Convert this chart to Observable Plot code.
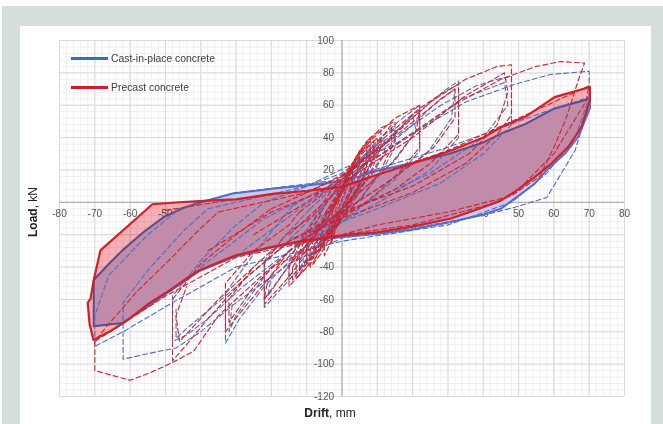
<!DOCTYPE html>
<html><head><meta charset="utf-8">
<script src="https://cdn.jsdelivr.net/npm/d3@7"></script>
<script src="https://cdn.jsdelivr.net/npm/@observablehq/plot@0.6"></script>
<style>
html,body{margin:0;padding:0;background:#fff;}
#page{position:relative;width:663px;height:424px;overflow:hidden;background:#fff;font-family:"Liberation Sans",Arial,sans-serif;}
#bg{position:absolute;left:2px;top:6px;right:0;bottom:0;background:#d6dedc;}
#panel{position:absolute;left:20px;top:26px;width:631px;bottom:0;background:#fff;}
#chart{position:absolute;left:0;top:0;}
.leg{position:absolute;left:71px;font-size:10.4px;color:#404040;white-space:nowrap;}
.leg span.sw{display:inline-block;width:37px;height:2.5px;vertical-align:middle;margin-right:3px;position:relative;top:-1px;}
#ytitle{position:absolute;left:33px;top:212px;transform:translate(-50%,-50%) rotate(-90deg);font-size:12px;color:#222;white-space:nowrap;}
#xtitle{position:absolute;left:330px;top:413px;transform:translate(-50%,-50%);font-size:12px;color:#222;white-space:nowrap;}
</style></head>
<body>
<div id="page">
  <div id="bg"></div>
  <div id="panel"></div>
  <div id="chart"></div>
  <div class="leg" style="top:53px"><span class="sw" style="background:#2f70c2"></span>Cast-in-place concrete</div>
  <div class="leg" style="top:82px"><span class="sw" style="background:#c9202b"></span>Precast concrete</div>
  <div id="ytitle"><b>Load</b>, kN</div>
  <div id="xtitle"><b>Drift</b>, mm</div>
</div>
<script>
// ---- tick labels ----
const xTickLabels = [-80,-70,-60,-50,-40,-30,-20,-10,0,10,20,30,40,50,60,70,80];
const yTickLabels = [-120,-100,-80,-60,-40,-20,0,20,40,60,80,100];

// ---- final (filled) cycles ----
const castFinalLoop = [[-70.3,-48],[-66,-38],[-62.2,-29.7],[-56,-18],[-50.4,-9],[-45,-3.5],[-40,0],[-31,5.4],[-19.2,8.5],[-9.7,10.5],[0,12.8],[10,19.5],[20,24.5],[30.4,30],[40,37],[45.1,42.5],[52,48.5],[60.2,58],[70.2,64],[70.2,58],[66.9,40.4],[63.1,30],[58,20],[54.6,11.5],[48.9,2.3],[45.1,-3.9],[40,-7.5],[30.9,-12.2],[19.6,-16.9],[9.2,-19.8],[0,-21.5],[-10.5,-24],[-20,-28],[-30.2,-33.5],[-40.4,-42.5],[-48.8,-55],[-55,-64.5],[-62.2,-74.6],[-70.3,-76.6]];
const precastFinalLoop = [[-71.2,-59.5],[-70.3,-48],[-68.4,-29.7],[-53.7,-1.2],[-45,0.2],[-38,1],[-30,1.8],[-19.2,5.4],[-10,7],[0,9.5],[10,17],[20,24],[30.9,32],[40,40],[45.1,46.5],[52,53],[60.2,65],[70.2,71.3],[70.2,63],[67.8,46.5],[64,34],[59.3,24],[54.6,15.6],[48.9,6.4],[45.1,1.2],[40,-3],[30.9,-10],[19.6,-15.2],[10,-18.5],[0,-20.4],[-10.5,-23.5],[-20,-27.6],[-30.2,-32.8],[-40.4,-42],[-44,-47],[-48.8,-54.4],[-55,-63],[-60.8,-73],[-65.5,-79.5],[-70.4,-85],[-71.5,-75],[-72,-62]];

// ---- earlier (dashed) cycles ----
const castCycles = [
  [[-1,-6],[1,6],[2,12],[3,18],[3,12],[1,2],[-1,-8],[-2,-15],[-3,-22],[-3,-15],[-2,-8],[-1,-6]],
  [[-3,-6],[0,8],[3,20],[6,28],[6,20],[4,8],[1,-4],[-2,-14],[-4,-22],[-6,-30],[-6,-22],[-4,-10],[-3,-6]],
  [[-4,-4],[0,10],[5,26],[9,35],[9,26],[6,12],[2,-2],[-2,-14],[-6,-26],[-10,-38],[-10,-28],[-7,-14],[-4,-4]],
  [[-5,-2],[0,12],[4,24],[8,33],[8,24],[5,10],[1,-4],[-3,-16],[-7,-28],[-11,-40],[-11,-30],[-8,-16],[-5,-2]],
  [[-7,-22],[-2,0],[3,16],[7,30],[7,22],[3,8],[-2,-10],[-7,-28],[-7,-22]],
  [[-12,-36],[-6,-16],[0,6],[6,22],[12,40],[12,30],[6,12],[0,-4],[-6,-20],[-12,-42],[-12,-36]],
  [[-6,-4],[0,12],[7,30],[12,42],[15,46],[15,34],[11,18],[5,2],[0,-10],[-6,-24],[-11,-38],[-15,-48],[-15,-36],[-11,-20],[-6,-4]],
  [[-18,-30],[-8,-8],[2,14],[12,36],[20,54],[21,44],[14,24],[4,4],[-6,-16],[-16,-42],[-21,-58],[-20,-46]],
  [[-9,-4],[0,14],[9,36],[16,50],[22,60],[22,46],[22,32],[15,14],[6,-2],[0,-12],[-8,-30],[-15,-48],[-22,-65],[-22,-50],[-22,-36],[-15,-18],[-9,-4]],
  [[-28,-30],[-12,-4],[4,20],[18,44],[28,64],[32,70],[31,52],[24,30],[10,8],[-6,-14],[-20,-40],[-30,-70],[-32,-80],[-31,-62]],
  [[-14,-2],[0,14],[12,38],[22,56],[29,69],[33,75],[33,58],[33,40],[25,20],[12,2],[0,-12],[-12,-30],[-22,-52],[-29,-72],[-33,-87],[-33,-70],[-33,-56],[-25,-32],[-14,-2]],
  [[-40,-40],[-22,-10],[0,14],[20,42],[34,64],[46,74],[47,60],[40,40],[25,18],[5,-2],[-15,-24],[-32,-56],[-44,-78],[-47,-84],[-47,-66]],
  [[-22,0],[0,18],[15,40],[28,60],[38,72],[44,76],[48,78],[48,62],[48,48],[40,30],[28,12],[10,-4],[0,-12],[-15,-30],[-28,-52],[-38,-72],[-44,-82],[-48,-86],[-48,-72],[-48,-58],[-40,-36],[-30,-14],[-22,0]],
  [[-38,-4],[-10,10],[15,36],[35,62],[49,73],[59,79],[70,81],[70,72],[70,60],[66,32],[58,3],[49,-3],[40,-8],[20,-16],[0,-22],[-15,-38],[-30,-62],[-40,-80],[-47,-90],[-55,-93.5],[-62,-97],[-62,-80],[-62,-62],[-55,-42],[-45,-18],[-38,-4]],
  [[-46,-4],[-30,6],[0,14],[30,34],[60,58],[70,65],[66,40],[58,18],[48,0],[30,-14],[0,-24],[-30,-40],[-48,-62],[-62,-80],[-70,-89],[-70,-70],[-66,-45],[-55,-20],[-46,-4]]
];
const precastCycles = [
  [[-1,-4],[1,8],[2,16],[3,22],[3,15],[2,6],[0,-3],[-1,-10],[-2,-18],[-3,-25],[-3,-17],[-2,-8],[-1,-4]],
  [[-2,-6],[1,12],[3,24],[5,32],[5,24],[3,10],[1,-2],[-1,-12],[-3,-24],[-5,-33],[-5,-24],[-3,-10],[-2,-6]],
  [[-6,-20],[-2,0],[2,18],[5,30],[7,36],[7,26],[4,12],[0,-4],[-4,-20],[-7,-32],[-8,-38],[-8,-28],[-6,-20]],
  [[-3,-8],[0,8],[3,24],[6,35],[8,40],[8,30],[6,16],[3,2],[0,-10],[-3,-20],[-6,-32],[-9,-40],[-9,-30],[-7,-16],[-4,-6],[-1,4],[2,14]],
  [[-4,-10],[0,6],[3,20],[6,32],[9,38],[9,28],[6,14],[2,0],[-2,-14],[-6,-28],[-10,-38],[-10,-28],[-7,-14],[-4,-10]],
  [[-10,-30],[-5,-10],[0,10],[4,26],[10,40],[10,30],[6,16],[0,-6],[-6,-26],[-12,-44],[-12,-34],[-10,-30]],
  [[-5,-8],[0,10],[4,28],[8,40],[11,45],[11,34],[8,18],[4,3],[0,-10],[-4,-22],[-8,-36],[-13,-47],[-13,-36],[-10,-20],[-6,-8],[-5,-8]],
  [[-14,-40],[-8,-20],[0,6],[8,30],[14,48],[14,36],[8,16],[0,-4],[-8,-30],[-14,-48],[-14,-40]],
  [[-6,-6],[0,14],[6,34],[11,46],[15,50],[15,38],[11,20],[6,4],[0,-10],[-5,-24],[-10,-40],[-15,-52],[-15,-40],[-11,-22],[-7,-8],[-6,-6]],
  [[-15,-20],[-5,0],[5,20],[14,40],[20,54],[22,57],[21,44],[15,26],[5,6],[-5,-14],[-14,-36],[-20,-54],[-22,-60],[-21,-48],[-15,-30]],
  [[-8,-8],[0,16],[8,38],[15,52],[22,60],[22,48],[22,34],[16,18],[8,2],[0,-10],[-8,-26],[-15,-46],[-22,-63],[-22,-50],[-22,-38],[-16,-20],[-8,-8]],
  [[-25,-20],[-10,0],[5,24],[18,46],[27,62],[32,70],[32,52],[26,34],[14,14],[0,-6],[-14,-28],[-25,-52],[-32,-74],[-32,-60],[-25,-40]],
  [[-12,-6],[0,14],[12,40],[22,58],[28,67],[33,73],[33,58],[33,42],[25,24],[15,8],[0,-8],[-10,-22],[-20,-45],[-28,-66],[-33,-80],[-33,-64],[-33,-50],[-25,-30],[-15,-14],[-12,-6]],
  [[-38,-30],[-20,-6],[0,12],[20,40],[35,66],[46,80],[47,68],[44,48],[36,30],[20,10],[0,-6],[-20,-30],[-35,-60],[-46,-86],[-47,-70],[-44,-52]],
  [[-20,-4],[0,16],[15,42],[25,62],[35,76],[44,84],[48,85],[48,70],[48,54],[44,42],[35,24],[20,6],[0,-10],[-15,-24],[-28,-48],[-38,-72],[-44,-88],[-48,-98],[-48,-80],[-48,-60],[-40,-38],[-30,-20],[-20,-4]],
  [[-35,-6],[-10,6],[10,28],[30,58],[45,76],[55,84],[62,87],[68.7,86],[67,76],[63.5,52],[60,34],[56,16],[48,4],[30,-6],[10,-14],[0,-20],[-20,-40],[-35,-70],[-42,-92],[-48,-99],[-54,-105],[-60,-110],[-70,-104],[-70,-86],[-66,-75],[-58,-55],[-50,-38],[-40,-16],[-35,-6]],
  [[-50,-5],[-30,2],[0,10],[30,32],[60,62],[70,72],[69,62],[60,30],[50,8],[44,0],[20,-14],[0,-20],[-30,-34],[-50,-58],[-70,-86]]
];

function toRows(cycles, series) {
  const out = [];
  cycles.forEach((loop, i) => loop.forEach(([x, y]) => out.push({series, loop: series + i, x, y})));
  return out;
}
const castRows = toRows(castCycles, "cast");
const precastRows = toRows(precastCycles, "precast");

const chart = Plot.plot({
  width: 663, height: 424,
  marginLeft: 59, marginRight: 39, marginTop: 40, marginBottom: 28,
  x: {domain: [-80, 80], axis: null},
  y: {domain: [-120, 100], axis: null},
  style: {background: "transparent", fontFamily: "'Liberation Sans', Arial, sans-serif", overflow: "visible"},
  marks: [
    Plot.ruleX(d3.range(-80, 81, 2), {stroke: "#efefef", strokeWidth: 1}),
    Plot.ruleY(d3.range(-120, 101, 4), {stroke: "#efefef", strokeWidth: 1}),
    Plot.ruleX(xTickLabels, {stroke: "#d9d9d9", strokeWidth: 1}),
    Plot.ruleY(yTickLabels, {stroke: "#d9d9d9", strokeWidth: 1}),
    Plot.ruleY([0], {stroke: "#a6a6a6", strokeWidth: 1}),
    Plot.ruleX([0], {stroke: "#a6a6a6", strokeWidth: 1}),
    Plot.text(xTickLabels, {x: d => d, y: () => 0, dy: 11, text: d => String(d), fill: "#555", fontSize: 10}),
    Plot.text(yTickLabels, {x: () => 0, y: d => d, dx: -8, textAnchor: "end", text: d => String(d), fill: "#555", fontSize: 10}),
    Plot.line(castFinalLoop, {x: d => d[0], y: d => d[1], curve: "linear-closed", fill: "#c8cbee", stroke: "none"}),
    Plot.line(castFinalLoop, {x: d => d[0], y: d => d[1], curve: "linear-closed", stroke: "#5f6cc6", strokeWidth: 2}),
    Plot.line(precastFinalLoop, {x: d => d[0], y: d => d[1], curve: "linear-closed", fill: "#f7b0b6", stroke: "none", mixBlendMode: "multiply"}),
    Plot.line(castRows, {x: "x", y: "y", z: "loop", stroke: "#4b6ec6", strokeWidth: 1.1, strokeDasharray: "5,3"}),
    Plot.line(precastRows, {x: "x", y: "y", z: "loop", stroke: "#d0222e", strokeWidth: 1.1, strokeDasharray: "5,3"}),
    Plot.line(precastFinalLoop, {x: d => d[0], y: d => d[1], curve: "linear-closed", stroke: "#d0202a", strokeWidth: 2.2})
  ]
});
document.getElementById("chart").appendChild(chart);
</script>
</body></html>
